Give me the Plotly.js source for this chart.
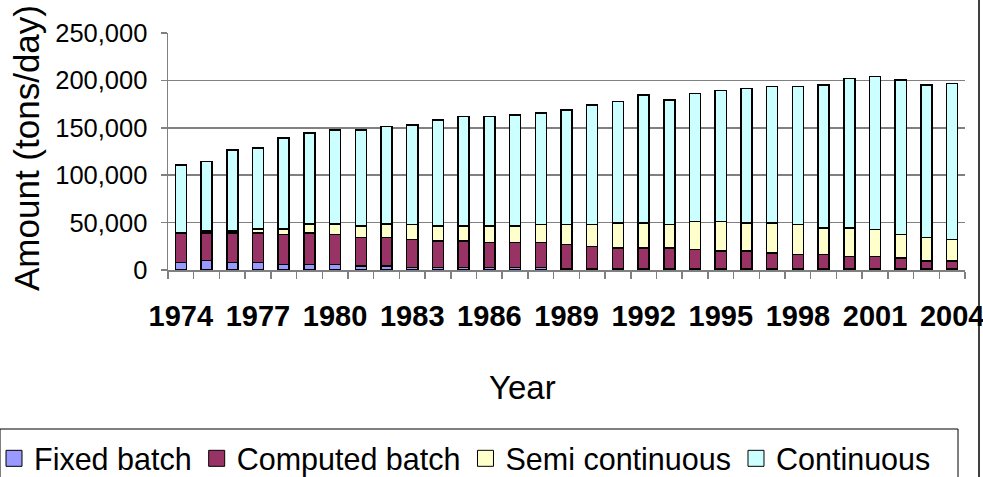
<!DOCTYPE html>
<html>
<head>
<meta charset="utf-8">
<script src="https://cdn.plot.ly/plotly-3.0.1.min.js"></script>
<style>html,body{margin:0;padding:0;background:#fff}#chart{width:983px;height:477px}</style>
</head>
<body>
<div id="chart"></div>
<script>
var years = [1974,1975,1976,1977,1978,1979,1980,1981,1982,1983,1984,1985,1986,1987,1988,1989,1990,1991,1992,1993,1994,1995,1996,1997,1998,1999,2000,2001,2002,2003,2004];
var fixedBatch = [7700,10200,7700,7800,6000,6000,6000,4200,4200,2800,2500,2500,2500,2500,2500,1000,1000,1000,1000,1000,1000,1000,1000,1000,1000,1000,1000,1000,1000,1000,1000];
var computedBatch = [31500,28700,31200,31300,31400,33100,31400,30000,30000,29300,28200,28200,26400,26400,26400,25800,24000,22300,22300,22300,20800,19100,19100,17000,15600,15600,13400,13400,11700,8500,8500];
var semiContinuous = [500,2400,2400,4200,5900,9500,10900,12000,14100,15800,15500,15500,17300,17300,19000,21100,22900,26400,26400,24600,29600,31300,29600,31700,31300,27800,30000,28200,24700,24700,22900];
var continuous = [71300,72900,85200,85300,95900,95900,99400,101500,102900,105000,112000,115500,115500,117300,117700,121100,126200,127900,135000,131500,135000,138200,141600,143700,145500,150800,157500,161400,163100,161000,164500];
var seriesNames = ['Fixed batch','Computed batch','Semi continuous','Continuous'];
var seriesColors = ['#9999FF','#993366','#FFFFCC','#CCFFFF'];
var yTickVals = [0,50000,100000,150000,200000,250000];
var xTickVals = [1974,1977,1980,1983,1986,1989,1992,1995,1998,2001,2004];

var allSeries = [fixedBatch, computedBatch, semiContinuous, continuous];
var traces = [];
allSeries.forEach(function(vals, i){
  traces.push({type:'bar', x:years, y:vals, name:seriesNames[i], showlegend:false, legendgroup:'g'+i,
    marker:{color:seriesColors[i], line:{color:'#000', width:1.5}}});
});
seriesNames.forEach(function(n, i){
  traces.push({type:'scatter', mode:'markers', x:[null], y:[null], name:n, legendgroup:'g'+i,
    marker:{symbol:'square', size:16, color:seriesColors[i], line:{color:'#000', width:1}}});
});

var W=983, H=477;
var L=168, R=965, T=33, B=270;
function px(x){return (x-L)/(R-L);}
function py(y){return (B-y)/(B-T);}

var layout = {
  width:W, height:H,
  margin:{l:L, r:W-R, t:T, b:H-B, autoexpand:false},
  paper_bgcolor:'#fff', plot_bgcolor:'#fff',
  barmode:'stack', bargap:0.57,
  font:{family:'Arial, Liberation Sans, sans-serif', color:'#000'},
  xaxis:{
    range:[1973.5,2004.5], tickmode:'array', tickvals:xTickVals, ticktext:xTickVals.map(String),
    ticks:'', showgrid:false, showline:true, linecolor:'#808080', linewidth:1.5,
    tickfont:{size:29, family:'Arial, Liberation Sans, sans-serif', weight:'bold', color:'#000'},
    ticklabelstandoff:20, ticklabeloverflow:'allow',
    minor:{tickmode:'linear', tick0:1973.5, dtick:1, ticks:'outside', ticklen:7, tickcolor:'#808080', tickwidth:1.5, showgrid:false},
    zeroline:false, fixedrange:true, automargin:false
  },
  yaxis:{
    range:[0,250000], tickmode:'array', tickvals:yTickVals, tickformat:',',
    ticks:'outside', ticklen:6, tickcolor:'#808080', tickwidth:1.5,
    showline:true, linecolor:'#808080', linewidth:1.5,
    showgrid:true, gridcolor:'#808080', gridwidth:1.5,
    tickfont:{size:25.5, color:'#000'}, ticklabelstandoff:8,
    zeroline:false, fixedrange:true, automargin:false
  },
  showlegend:true,
  legend:{orientation:'h', x:px(-6), xanchor:'left', y:py(432), yanchor:'top',
    font:{size:30.5, color:'#000'}, bgcolor:'rgba(0,0,0,0)', borderwidth:0, traceorder:'normal', itemwidth:30},
  annotations:[
    {text:'Amount (tons/day)', xref:'paper', yref:'paper', x:px(26), y:py(148), xanchor:'center', yanchor:'middle',
      textangle:-90, showarrow:false, font:{size:35, color:'#000'}},
    {text:'Year', xref:'paper', yref:'paper', x:px(522), y:py(387), xanchor:'center', yanchor:'middle',
      showarrow:false, font:{size:33, color:'#000'}}
  ],
  shapes:[
    {type:'rect', xref:'paper', yref:'paper', x0:px(0), x1:px(958), y0:py(429), y1:py(485), line:{color:'#000', width:1}, fillcolor:'rgba(0,0,0,0)', layer:'below'},
    {type:'line', xref:'paper', yref:'paper', x0:px(979), x1:px(979), y0:py(-5), y1:py(485), line:{color:'#000', width:1.5}}
  ]
};
Plotly.newPlot('chart', traces, layout, {staticPlot:true, displayModeBar:false});
</script>
</body>
</html>
